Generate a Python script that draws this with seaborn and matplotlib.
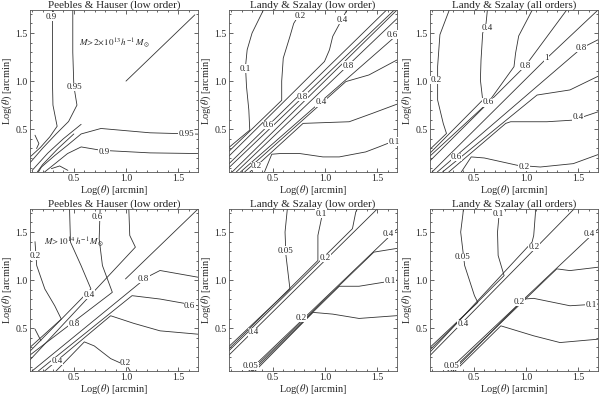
import matplotlib
matplotlib.use('Agg')
import matplotlib.pyplot as plt
import seaborn as sns
import pandas as pd

sns.set_style('ticks')
plt.rcParams['font.family'] = ['Liberation Serif', 'DejaVu Serif']
plt.rcParams['mathtext.fontset'] = 'stix'

# contour lines: (log theta_1 values, log theta_2 values)
ph13_lines = [
    ([0.295, 0.295, 0.30, 0.34, 0.27, 0.18, 0.08], [1.74, 1.0, 0.75, 0.53, 0.42, 0.31, 0.21]),
    ([0.49, 0.49, 0.50, 0.53, 0.45, 0.33, 0.20, 0.08], [1.74, 1.3, 0.95, 0.75, 0.58, 0.45, 0.30, 0.15]),
    ([0.57, 0.40, 0.25, 0.10], [0.55, 0.40, 0.25, 0.07]),
    ([0.50, 0.35, 0.20, 0.15], [0.45, 0.30, 0.13, 0.054]),
    ([1.69, 1.23, 0.76, 0.57, 0.44, 0.32, 0.19, 0.16], [0.448, 0.462, 0.507, 0.45, 0.333, 0.228, 0.106, 0.054]),
    ([1.69, 1.23, 0.76, 0.57, 0.44, 0.32, 0.22], [0.246, 0.253, 0.28, 0.315, 0.246, 0.141, 0.054]),
    ([0.128, 0.165, 0.143], [0.437, 0.35, 0.298]),
    ([0.285, 0.364, 0.443], [0.089, 0.117, 0.071]),
    ([1.0, 1.66], [1.0, 1.69]),
]
ph13_labels = [('0.9', 0.285, 1.67), ('0.95', 0.51, 0.94), ('0.95', 1.58, 0.45), ('0.9', 0.79, 0.26)]

ls13_low_lines = [
    ([0.41, 0.301, 0.254, 0.238, 0.248, 0.27, 0.279, 0.08], [1.74, 1.5, 1.326, 1.15, 0.94, 0.70, 0.49, 0.31]),
    ([0.78, 0.70, 0.664, 0.60, 0.585, 0.585, 0.08], [1.74, 1.60, 1.465, 1.239, 1.0, 0.80, 0.27]),
    ([1.21, 1.074, 1.043, 0.995, 0.08], [1.74, 1.465, 1.326, 1.204, 0.22]),
    ([0.08, 1.59], [0.14, 1.74]),
    ([0.08, 1.664], [0.10, 1.74]),
    ([0.11, 1.69], [0.054, 1.74]),
    ([0.15, 1.69], [0.054, 1.65]),
    ([0.19, 1.69], [0.054, 1.48]),
    ([0.23, 1.20, 1.421, 1.69], [0.054, 0.995, 1.064, 1.22]),
    ([0.28, 0.79, 1.232, 1.453, 1.69], [0.054, 0.56, 0.577, 0.664, 0.76]),
    ([0.42, 0.49, 0.569, 0.759, 0.98, 1.137, 1.39, 1.516, 1.69], [0.054, 0.239, 0.246, 0.246, 0.211, 0.211, 0.263, 0.315, 0.39]),
]
ls13_low_labels = [('0.1', 0.238, 1.13), ('0.2', 0.759, 1.68), ('0.4', 1.162, 1.64), ('0.6', 1.642, 1.483),
                   ('0.8', 1.222, 1.162), ('0.8', 0.784, 0.838), ('0.4', 0.964, 0.779), ('0.6', 0.459, 0.542),
                   ('0.2', 0.342, 0.117), ('0.1', 1.66, 0.37)]

ls13_all_lines = [
    ([0.265, 0.254, 0.175, 0.153, 0.153, 0.207, 0.238, 0.08], [1.74, 1.709, 1.483, 1.152, 0.803, 0.559, 0.455, 0.29]),
    ([0.63, 0.617, 0.585, 0.569, 0.563, 0.585, 0.08], [1.74, 1.6, 1.5, 1.221, 1.012, 0.803, 0.25]),
    ([1.06, 0.93, 0.90, 0.885, 0.64, 0.08], [1.74, 1.47, 1.29, 1.15, 0.78, 0.22]),
    ([0.08, 0.995, 1.39], [0.17, 1.16, 1.74]),
    ([0.10, 1.2, 1.69], [0.054, 1.239, 1.74]),
    ([0.15, 1.532, 1.69], [0.054, 1.343, 1.43]),
    ([0.20, 1.106, 1.421, 1.69], [0.054, 0.855, 0.908, 1.05]),
    ([0.26, 0.806, 0.853, 1.2, 1.453, 1.69], [0.054, 0.56, 0.577, 0.577, 0.594, 0.68]),
    ([0.38, 0.475, 0.6, 0.916, 1.137, 1.453, 1.69], [0.054, 0.211, 0.2, 0.124, 0.106, 0.141, 0.235]),
]
ls13_all_labels = [('0.2', 0.14, 1.012), ('0.4', 0.626, 1.552), ('0.6', 0.639, 0.779), ('0.8', 0.995, 1.16),
                   ('1', 1.2, 1.239), ('0.8', 1.532, 1.343), ('0.4', 1.5, 0.629), ('0.2', 0.98, 0.11),
                   ('0.6', 0.333, 0.211)]

ph14_lines = [
    ([0.128, 0.144, 0.222, 0.317, 0.38, 0.08], [1.40, 1.152, 0.908, 0.733, 0.594, 0.30]),
    ([0.128, 0.185], [0.49, 0.368]),
    ([0.459, 0.468, 0.569, 0.664, 0.08], [1.74, 1.395, 1.152, 0.908, 0.26]),
    ([0.752, 0.743, 0.774, 0.869, 0.08], [1.74, 1.43, 1.152, 0.873, 0.22]),
    ([1.027, 1.036, 1.09, 0.08], [1.74, 1.465, 1.343, 0.17]),
    ([0.995, 1.69], [1.012, 1.74]),
    ([1.69, 1.326, 1.2, 0.10], [1.03, 1.10, 1.03, 0.054]),
    ([1.69, 1.326, 1.058, 0.16], [0.733, 0.803, 0.838, 0.054]),
    ([1.69, 1.326, 1.074, 0.853, 0.22], [0.437, 0.472, 0.55, 0.629, 0.054]),
    ([1.04, 1.011, 0.853, 0.696, 0.601, 0.33], [0.054, 0.106, 0.183, 0.315, 0.357, 0.054]),
]
ph14_labels = [('0.2', 0.128, 1.256), ('0.6', 0.727, 1.657), ('0.4', 0.648, 0.848), ('0.8', 0.50, 0.542),
               ('0.8', 1.17, 1.012), ('0.6', 1.61, 0.726), ('0.2', 0.995, 0.141), ('0.4', 0.342, 0.159)]

ls14_low_lines = [
    ([0.639, 0.617, 0.626, 0.664, 0.08], [1.74, 1.5, 1.256, 0.908, 0.31]),
    ([0.99, 0.979, 0.932, 0.932, 0.08], [1.74, 1.709, 1.465, 1.204, 0.285]),
    ([1.31, 1.295, 1.263, 0.08], [1.74, 1.709, 1.535, 0.265]),
    ([0.08, 1.50], [0.22, 1.74]),
    ([0.27, 1.69], [0.054, 1.53]),
    ([0.29, 1.468, 1.69], [0.054, 1.291, 1.33]),
    ([0.31, 1.137, 1.326, 1.69], [0.054, 0.936, 0.936, 1.0]),
    ([0.33, 0.885, 1.074, 1.326, 1.69], [0.054, 0.664, 0.646, 0.601, 0.63]),
]
ls14_low_labels = [('0.05', 0.617, 1.308), ('0.1', 0.964, 1.692), ('0.2', 1.005, 1.228), ('0.4', 0.317, 0.455),
                   ('0.4', 1.61, 1.483), ('0.1', 1.626, 0.995), ('0.2', 0.774, 0.605), ('0.05', 0.285, 0.106)]

ls14_all_lines = [
    ([0.40, 0.396, 0.374, 0.412, 0.506, 0.538, 0.08], [1.74, 1.692, 1.5, 1.152, 0.838, 0.768, 0.30]),
    ([0.745, 0.743, 0.727, 0.733, 0.79, 0.08], [1.74, 1.692, 1.5, 1.256, 1.047, 0.275]),
    ([1.09, 1.09, 1.074, 1.058, 0.08], [1.74, 1.692, 1.465, 1.395, 0.25]),
    ([0.08, 1.46], [0.215, 1.74]),
    ([0.25, 1.69], [0.054, 1.53]),
    ([0.28, 1.295, 1.421, 1.69], [0.054, 1.117, 1.099, 1.134]),
    ([0.30, 0.98, 1.074, 1.421, 1.69], [0.054, 0.803, 0.81, 0.733, 0.751]),
    ([0.32, 0.759, 1.074, 1.326, 1.69], [0.054, 0.524, 0.42, 0.35, 0.385]),
]
ls14_all_labels = [('0.05', 0.396, 1.239), ('0.1', 0.733, 1.692), ('0.2', 1.074, 1.343), ('0.4', 0.396, 0.542),
                   ('0.4', 1.61, 1.483), ('0.1', 1.626, 0.74), ('0.2', 0.932, 0.775), ('0.05', 0.285, 0.106)]

titles = ['Peebles & Hauser (low order)', 'Landy & Szalay (low order)', 'Landy & Szalay (all orders)'] * 2
panels = [(ph13_lines, ph13_labels), (ls13_low_lines, ls13_low_labels), (ls13_all_lines, ls13_all_labels),
          (ph14_lines, ph14_labels), (ls14_low_lines, ls14_low_labels), (ls14_all_lines, ls14_all_labels)]
mass_notes = {0: (0.55, 1.40, r'$M\!>\!2\!\times\!10^{13}\,h^{-1}\,M_{\odot}$'),
              3: (0.21, 1.40, r'$M\!>\!10^{14}\,h^{-1}\,M_{\odot}$')}

fig = plt.figure(figsize=(6, 3.96), dpi=100)
lefts = [30, 229, 430]
tops = [10, 209]
W, H = 168, 162

for k, (lines, labels) in enumerate(panels):
    r, c = divmod(k, 3)
    ax = fig.add_axes([lefts[c] / 600, 1 - (tops[r] + H) / 396, W / 600, H / 396])
    rows = []
    for i, (xs, ys) in enumerate(lines):
        for j, (x, y) in enumerate(zip(xs, ys)):
            rows.append((i, j, x, y))
    df = pd.DataFrame(rows, columns=['line', 'step', 'x', 'y'])
    sns.lineplot(data=df, x='x', y='y', units='line', estimator=None, sort=False,
                 color='#333333', lw=0.6, ax=ax, legend=False)
    for txt, x, y in labels:
        ax.text(x, y, txt, ha='center', va='center', fontsize=6.5,
                bbox=dict(fc='white', ec='none', pad=0.2))
    if k in mass_notes:
        x, y, s = mass_notes[k]
        ax.text(x, y, s, ha='left', va='center', fontsize=6.5)

    ax.set_xlim(0.08, 1.69)
    ax.set_ylim(0.054, 1.74)
    ax.set_xticks([0.5, 1.0, 1.5])
    ax.set_yticks([0.5, 1.0, 1.5])
    ax.set_xticks([v / 10 for v in range(1, 17)], minor=True)
    ax.set_yticks([v / 10 for v in range(1, 18)], minor=True)
    ax.tick_params(which='both', direction='in', top=True, right=True, labelsize=7, pad=1.5, width=0.5)
    ax.tick_params(which='major', length=3)
    ax.tick_params(which='minor', length=1.5)
    for sp in ax.spines.values():
        sp.set_linewidth(0.6)
        sp.set_color('#555555')
    ax.set_xlabel(r'Log($\theta$) [arcmin]', fontsize=7.5, labelpad=0)
    ax.set_ylabel(r'Log($\theta$) [arcmin]', fontsize=7.5, labelpad=1)
    ax.set_title(titles[k], fontsize=8, pad=1.5)

fig.savefig('out.png', dpi=100)
